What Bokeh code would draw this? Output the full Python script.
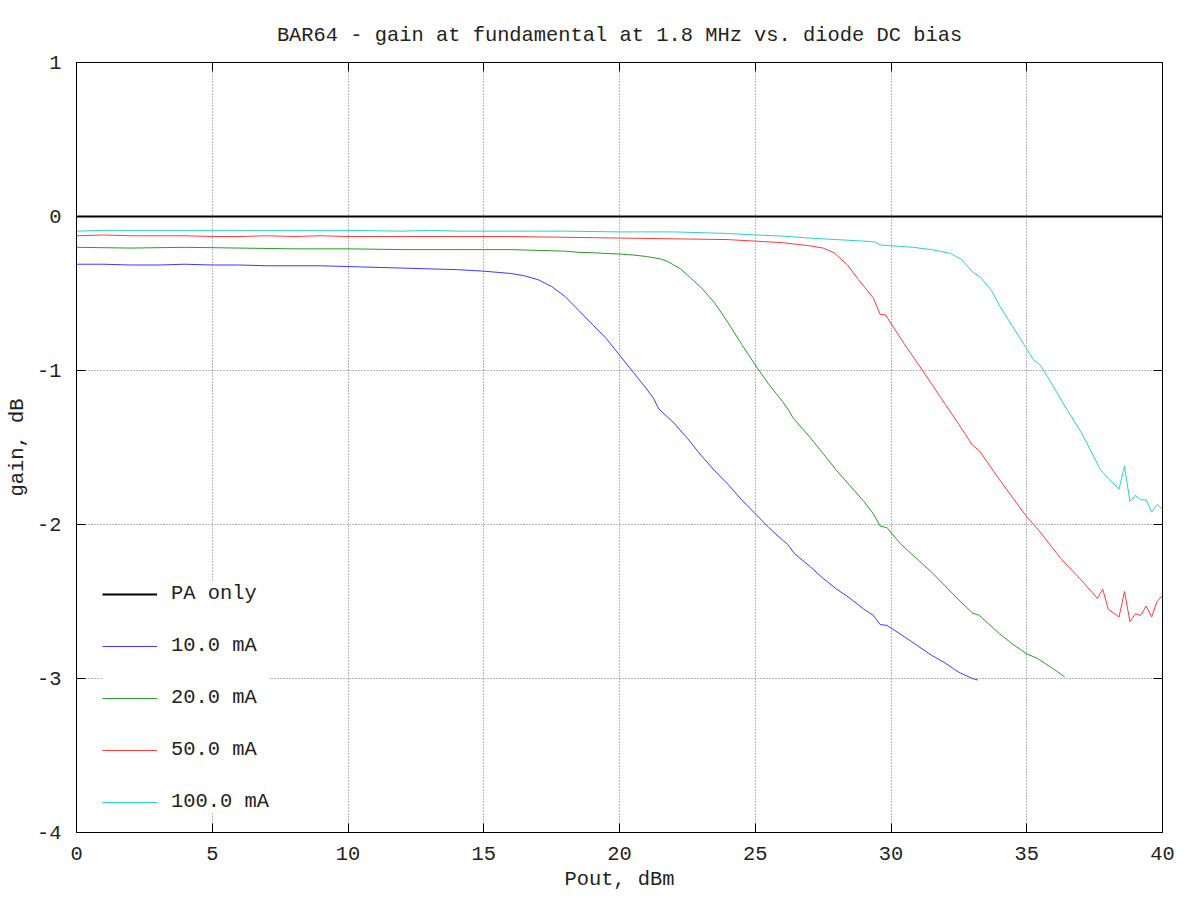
from bokeh.plotting import figure
from bokeh.models import LinearAxis, Legend, LegendItem, FixedTicker, Range1d
from bokeh.embed import file_html
from bokeh.resources import INLINE

# ---------------- data ----------------
title_text = "BAR64 - gain at fundamental at 1.8 MHz vs. diode DC bias"
x_label = "Pout, dBm"
y_label = "gain, dB"

x_ticks = [0, 5, 10, 15, 20, 25, 30, 35, 40]
x_tick_labels = ["0", "5", "10", "15", "20", "25", "30", "35", "40"]
y_ticks = [-4, -3, -2, -1, 0, 1]
y_tick_labels = ["-4", "-3", "-2", "-1", "0", "1"]

pa_x = [0, 40]
pa_y = [0.0, 0.0]

ma10_x = [0, 1, 2, 3, 4, 5, 6, 7, 8, 9, 10, 11, 12, 13, 14, 15, 16, 16.5, 17, 17.5,
          18, 18.5, 19, 19.5, 20, 20.5, 21, 21.25, 21.45, 22, 22.5, 23, 23.5, 24, 24.5,
          25, 25.5, 26, 26.2, 26.45, 27, 27.5, 28, 28.5, 29, 29.35, 29.6, 29.85, 30.5,
          31, 31.5, 32, 32.5, 33, 33.2]
ma10_y = [-0.31, -0.31, -0.315, -0.315, -0.31, -0.315, -0.315, -0.32, -0.32, -0.32,
          -0.325, -0.33, -0.335, -0.34, -0.345, -0.355, -0.37, -0.385, -0.41, -0.455,
          -0.52, -0.61, -0.70, -0.79, -0.90, -1.01, -1.12, -1.18, -1.25, -1.34, -1.44,
          -1.55, -1.65, -1.74, -1.84, -1.93, -2.02, -2.10, -2.13, -2.19, -2.27, -2.35,
          -2.42, -2.48, -2.55, -2.59, -2.65, -2.655, -2.73, -2.79, -2.85, -2.90, -2.96,
          -3.00, -3.01]

ma20_x = [0, 2, 4, 6, 8, 10, 12, 14, 16, 17, 18, 18.5, 19, 19.5, 20, 20.5, 21, 21.5,
          21.75, 22, 22.25, 22.5, 23, 23.5, 24, 24.5, 25, 25.5, 26, 26.2, 26.4, 27, 27.5,
          28, 28.5, 29, 29.35, 29.6, 29.85, 30.35, 31, 31.5, 32, 32.5, 33, 33.25, 33.5,
          34, 34.5, 35, 35.4, 36, 36.4]
ma20_y = [-0.20, -0.205, -0.20, -0.205, -0.21, -0.21, -0.215, -0.215, -0.215, -0.22,
          -0.225, -0.233, -0.235, -0.24, -0.244, -0.25, -0.26, -0.275, -0.29, -0.315,
          -0.34, -0.38, -0.46, -0.56, -0.69, -0.83, -0.965, -1.09, -1.20, -1.25, -1.31,
          -1.43, -1.54, -1.65, -1.75, -1.85, -1.93, -2.01, -2.02, -2.125, -2.23, -2.31,
          -2.40, -2.49, -2.575, -2.59, -2.63, -2.71, -2.78, -2.84, -2.87, -2.94, -2.99]

ma50_x = [0, 1, 2, 3, 4, 5, 6, 7, 8, 9, 10, 12, 14, 16, 18, 20, 22, 24, 25, 26, 27,
          27.5, 27.9, 28.4, 28.8, 29.35, 29.6, 29.8, 30.5, 31.2, 32, 32.5, 33, 33.25, 34,
          35, 35.5, 36.25, 37, 37.6, 37.8, 38.0, 38.4, 38.6, 38.8, 39.0, 39.2, 39.4, 39.6,
          39.8, 40.0]
ma50_y = [-0.125, -0.12, -0.125, -0.125, -0.125, -0.13, -0.13, -0.125, -0.13, -0.125,
          -0.13, -0.13, -0.13, -0.13, -0.135, -0.14, -0.145, -0.15, -0.16, -0.17, -0.19,
          -0.205, -0.235, -0.315, -0.41, -0.53, -0.635, -0.64, -0.83, -1.01, -1.22, -1.35,
          -1.485, -1.52, -1.71, -1.95, -2.05, -2.22, -2.36, -2.48, -2.42, -2.55, -2.60,
          -2.435, -2.63, -2.58, -2.59, -2.53, -2.60, -2.50, -2.46]

ma100_x = [0, 1, 2, 3, 4, 5, 6, 8, 10, 12, 13, 14, 16, 18, 20, 22, 24, 25, 26, 27, 28,
           29, 29.4, 29.6, 30.8, 31.5, 32.2, 32.6, 33.0, 33.3, 33.7, 34.0, 34.5, 35.0,
           35.25, 35.5, 36.0, 36.5, 37.0, 37.5, 37.7, 38.0, 38.4, 38.6, 38.8, 39.0, 39.2,
           39.4, 39.6, 39.8, 40.0]
ma100_y = [-0.095, -0.09, -0.09, -0.09, -0.09, -0.09, -0.09, -0.09, -0.09, -0.095,
           -0.09, -0.095, -0.095, -0.095, -0.10, -0.10, -0.11, -0.12, -0.127, -0.14,
           -0.15, -0.16, -0.165, -0.185, -0.20, -0.215, -0.24, -0.28, -0.36, -0.395,
           -0.48, -0.58, -0.72, -0.86, -0.93, -0.965, -1.11, -1.26, -1.40, -1.57, -1.64,
           -1.70, -1.77, -1.62, -1.85, -1.81, -1.84, -1.84, -1.92, -1.87, -1.90]

series_labels = ["PA only", "10.0 mA", "20.0 mA", "50.0 mA", "100.0 mA"]

# ---------------- styling ----------------
FONT = "Liberation Mono"
TXT = "#222222"
FS = "20.4px"

p = figure(width=1192, height=898, output_backend="svg", toolbar_location=None,
           x_range=Range1d(0, 40), y_range=Range1d(-4, 1),
           min_border_left=76, min_border_right=30, min_border_top=62,
           min_border_bottom=66, background_fill_color="white",
           border_fill_color="white")

p.title.text = title_text
p.title.align = "center"
p.title.text_font = FONT
p.title.text_font_size = FS
p.title.text_font_style = "normal"
p.title.text_color = TXT
p.title.standoff = 32

p.outline_line_color = "black"
p.outline_line_width = 1

xt = FixedTicker(ticks=x_ticks, minor_ticks=[])
yt = FixedTicker(ticks=y_ticks, minor_ticks=[])

for ax in p.xaxis:
    ax.ticker = xt
    ax.major_label_overrides = {t: l for t, l in zip(x_ticks, x_tick_labels)}
    ax.axis_label = x_label
    ax.major_label_standoff = 14
    ax.axis_label_standoff = 5
for ax in p.yaxis:
    ax.ticker = yt
    ax.major_label_overrides = {t: l for t, l in zip(y_ticks, y_tick_labels)}
    ax.axis_label = y_label
    ax.major_label_standoff = 15
    ax.axis_label_standoff = 5

for ax in list(p.xaxis) + list(p.yaxis):
    ax.axis_line_color = None
    ax.major_tick_in = 9
    ax.major_tick_out = 0
    ax.minor_tick_line_color = None
    ax.major_tick_line_color = "black"
    ax.major_label_text_font = FONT
    ax.major_label_text_font_size = FS
    ax.major_label_text_color = TXT
    ax.axis_label_text_font = FONT
    ax.axis_label_text_font_size = FS
    ax.axis_label_text_font_style = "normal"
    ax.axis_label_text_color = TXT

# mirror ticks on top and right (no labels drawn)
top = LinearAxis(ticker=xt, axis_line_color=None, major_tick_in=9, major_tick_out=0,
                 minor_tick_line_color=None, major_label_text_font_size="1px",
                 major_label_text_color=None, major_label_standoff=0)
right = LinearAxis(ticker=yt, axis_line_color=None, major_tick_in=9, major_tick_out=0,
                   minor_tick_line_color=None, major_label_text_font_size="1px",
                   major_label_text_color=None, major_label_standoff=0)
p.add_layout(top, "above")
p.add_layout(right, "right")

p.xgrid.ticker = xt
p.ygrid.ticker = yt
for g in (p.xgrid, p.ygrid):
    g.grid_line_color = "#707070"
    g.grid_line_dash = "1 2"
    g.grid_line_width = 1

r0 = p.line(pa_x, pa_y, line_color="black", line_width=2)
r1 = p.line(ma10_x, ma10_y, line_color="#3a3aff", line_width=1)
r2 = p.line(ma20_x, ma20_y, line_color="#2a9a2a", line_width=1)
r3 = p.line(ma50_x, ma50_y, line_color="#ff3a3a", line_width=1)
r4 = p.line(ma100_x, ma100_y, line_color="#2ad0d0", line_width=1)

items = [LegendItem(label=l, renderers=[r]) for l, r in zip(series_labels, [r0, r1, r2, r3, r4])]
legend = Legend(items=items, location=(26, 19), margin=0, padding=5,
                border_line_color=None, background_fill_color="white",
                background_fill_alpha=1.0, glyph_width=55, glyph_height=20,
                label_height=20, spacing=29, label_standoff=14,
                label_text_font=FONT, label_text_font_size=FS,
                label_text_color=TXT)
p.add_layout(legend, "center")

open("out.html", "w").write(file_html(p, INLINE))
